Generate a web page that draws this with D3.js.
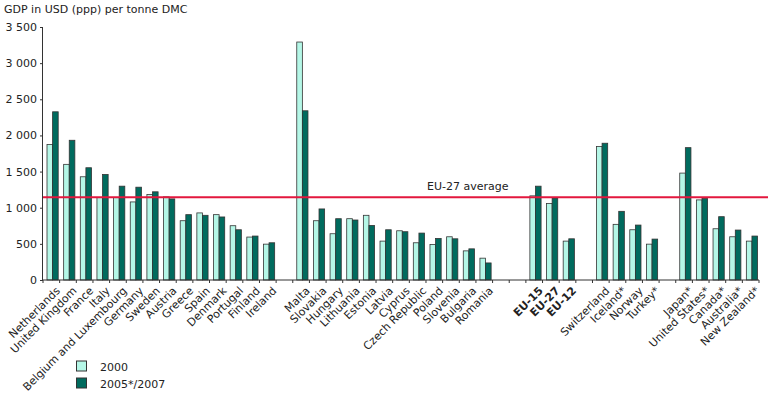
<!DOCTYPE html>
<html>
<head>
<meta charset="utf-8">
<script src="https://cdn.jsdelivr.net/npm/d3@7"></script>
<style>
  body { margin: 0; background: #fff; }
  text { font-family: Verdana, "DejaVu Sans", sans-serif; fill: #222; }
</style>
</head>
<body>
<script>
// empty strings are spacer slots between the country groups
const categories = [
  "Netherlands", "United Kingdom", "France", "Italy", "Belgium and Luxembourg", "Germany", "Sweden",
  "Austria", "Greece", "Spain", "Denmark", "Portugal", "Finland", "Ireland",
  "",
  "Malta", "Slovakia", "Hungary", "Lithuania", "Estonia", "Latvia", "Cyprus", "Czech Republic",
  "Poland", "Slovenia", "Bulgaria", "Romania",
  "", "",
  "EU-15", "EU-27", "EU-12",
  "",
  "Switzerland", "Iceland*", "Norway", "Turkey*",
  "",
  "Japan*", "United States*", "Canada*", "Australia*", "New Zealand*"
];
const values2000 = [
  1875, 1600, 1428, 1140, 1140, 1080, 1182, 1150, 820, 928, 904, 751, 594, 496,
  null,
  3292, 820, 640, 848, 895, 538, 681, 515, 491, 598, 403, 302,
  null, null,
  1164, 1057, 538,
  null,
  1846, 770, 695, 496,
  null,
  1479, 1108, 709, 598, 538
];
const values2007 = [
  2327, 1933, 1553, 1460, 1298, 1284, 1220, 1122, 904, 895, 872, 695, 608, 515,
  null,
  2341, 983, 848, 830, 755, 695, 668, 649, 575, 570, 431, 236,
  null, null,
  1298, 1136, 570,
  null,
  1892, 950, 760, 566,
  null,
  1831, 1127, 876, 691, 608
];
const boldCategories = ["EU-15", "EU-27", "EU-12"];
const eu27Average = 1145;
const yTicks = [0, 500, 1000, 1500, 2000, 2500, 3000, 3500];
const seriesNames = ["2000", "2005*/2007"];
const seriesColors = ["#b5f7e7", "#006b5e"];

const width = 768, height = 394;
const margin = {left: 43, top: 27, bottom: 114};
const plotRight = 759;

const svg = d3.select("body").append("svg")
    .attr("width", width)
    .attr("height", height);

const x = d3.scaleBand()
    .domain(d3.range(categories.length))
    .range([margin.left, plotRight]);

const y = d3.scaleLinear()
    .domain([0, 3500])
    .range([height - margin.bottom, margin.top]);

const fmt = v => d3.format(",")(v).replace(",", " ");

// title
svg.append("text")
    .attr("x", 4).attr("y", 13)
    .style("font-size", "11px")
    .text("GDP in USD (ppp) per tonne DMC");

// y axis
const yAxis = svg.append("g")
    .attr("transform", `translate(${margin.left},0)`)
    .call(d3.axisLeft(y).tickValues(yTicks).tickFormat(fmt).tickSize(3).tickPadding(3));
yAxis.select(".domain").attr("stroke", "#333").attr("d", `M-0.5,${y(3500)}V${y(0)}`);
yAxis.selectAll("line").attr("stroke", "#333");
yAxis.selectAll("text").style("font-size", "11px").attr("fill", "#222");

// bars
const bw = 5.6;
const groups = svg.append("g");
categories.forEach((c, i) => {
  [values2000[i], values2007[i]].forEach((v, s) => {
    if (v == null) return;
    groups.append("rect")
      .attr("x", x(i) + 4 + s * bw)
      .attr("y", y(v))
      .attr("width", bw)
      .attr("height", y(0) - y(v))
      .attr("fill", seriesColors[s])
      .attr("stroke", "#333")
      .attr("stroke-width", 0.8);
  });
});

// x axis with ticks on slot boundaries
const xa = svg.append("g");
xa.append("line")
    .attr("x1", margin.left).attr("x2", plotRight)
    .attr("y1", y(0)).attr("y2", y(0))
    .attr("stroke", "#333");
d3.range(categories.length + 1).forEach(i => {
  const px = margin.left + i * x.step();
  xa.append("line")
      .attr("x1", px).attr("x2", px)
      .attr("y1", y(0)).attr("y2", y(0) + 3)
      .attr("stroke", "#333");
});
categories.forEach((c, i) => {
  if (!c) return;
  const cx = x(i) + x.bandwidth() / 2 + 4;
  xa.append("text")
      .attr("transform", `translate(${cx},${y(0) + 6}) rotate(-45)`)
      .attr("text-anchor", "end")
      .attr("dy", "0.7em")
      .style("font-size", "11px")
      .style("font-weight", boldCategories.includes(c) ? "bold" : "normal")
      .text(c);
});

// EU-27 average line
svg.append("line")
    .attr("x1", margin.left).attr("x2", width)
    .attr("y1", y(eu27Average)).attr("y2", y(eu27Average))
    .attr("stroke", "#e3173e")
    .attr("stroke-width", 2);
svg.append("text")
    .attr("x", 427).attr("y", y(eu27Average) - 7)
    .style("font-size", "11px")
    .text("EU-27 average");

// legend
seriesNames.forEach((n, s) => {
  const ly = 361 + s * 17;
  svg.append("rect")
      .attr("x", 76.5).attr("y", ly)
      .attr("width", 10).attr("height", 10)
      .attr("fill", seriesColors[s])
      .attr("stroke", "#333");
  svg.append("text")
      .attr("x", 100).attr("y", ly + 10)
      .style("font-size", "11px")
      .text(n);
});
</script>
</body>
</html>
